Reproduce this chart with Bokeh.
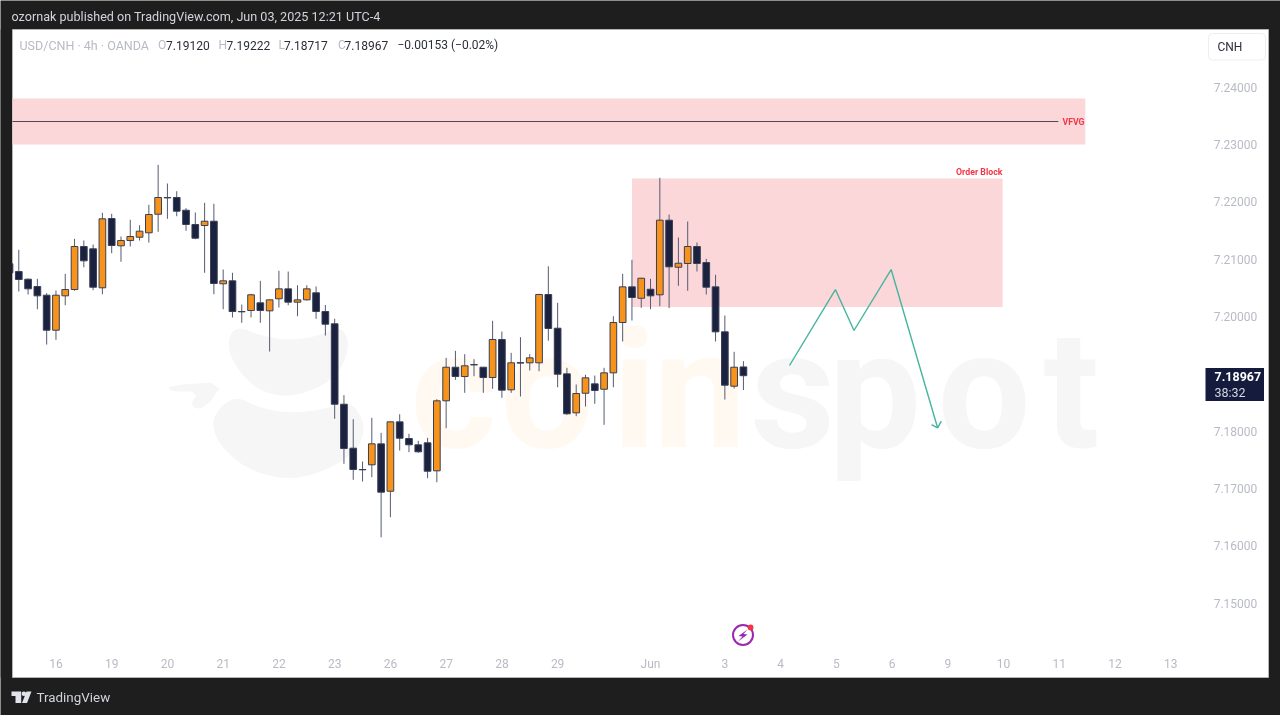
from bokeh.plotting import figure
from bokeh.embed import file_html
from bokeh.resources import INLINE
from bokeh.models import (Range1d, FixedTicker, Label, BoxAnnotation, PolyAnnotation)

# ---------------- data ----------------
opens = [7.20920,7.20785,7.20651,7.20524,7.20372,7.19761,7.20361,7.20471,7.21222,7.21181,
         7.20501,7.21710,7.21234,7.21326,7.21384,7.21461,7.21785,7.22077,7.22077,7.21855,
         7.21606,7.21588,7.21663,7.20571,7.20623,7.20087,7.20105,7.20239,7.20099,7.20309,
         7.20483,7.20250,7.20291,7.20414,7.20087,7.19873,7.18469,7.17702,7.17330,7.17412,
         7.17778,7.16951,7.18162,7.17871,7.17761,7.17796,7.17307,7.18529,7.19115,7.18953,
         7.19162,7.19115,7.18935,7.19599,7.18721,7.19195,7.19192,7.19192,7.20384,7.19796,
         7.19000,7.18319,7.18661,7.18825,7.18731,7.19017,7.19895,7.20518,7.20319,7.20476,
         7.20379,7.21681,7.20860,7.20925,7.21222,7.20942,7.20518,7.19733,7.18784,7.19120]
highs = [7.20942,7.21164,7.20663,7.20658,7.20407,7.20454,7.20745,7.21356,7.21326,7.21257,
         7.21810,7.21792,7.21396,7.21688,7.21593,7.21949,7.22647,7.22321,7.22187,7.21890,
         7.21815,7.21984,7.21967,7.20820,7.20763,7.20209,7.20396,7.20623,7.20297,7.20798,
         7.20785,7.20546,7.20546,7.20524,7.20201,7.19960,7.18627,7.18208,7.17469,7.18232,
         7.17970,7.18168,7.18295,7.17953,7.17831,7.17883,7.18557,7.19279,7.19401,7.19342,
         7.19255,7.19120,7.19925,7.19738,7.19366,7.19639,7.19342,7.20396,7.20876,7.20239,
         7.19105,7.18813,7.18983,7.18970,7.19105,7.20005,7.20745,7.20990,7.20675,7.20658,
         7.22421,7.21780,7.21379,7.21658,7.21291,7.21007,7.20728,7.20017,7.19384,7.19222]
lows = [7.20733,7.20436,7.20384,7.20127,7.19511,7.19593,7.20197,7.20450,7.20860,7.20459,
        7.20389,7.21105,7.20955,7.21222,7.21326,7.21291,7.21478,7.21705,7.21750,7.21496,
        7.21350,7.20763,7.20389,7.20127,7.19983,7.19890,7.19983,7.19890,7.19389,7.20157,
        7.20197,7.20005,7.20280,7.19960,7.19668,7.18215,7.17429,7.17150,7.17120,7.17195,
        7.16148,7.16497,7.17661,7.17632,7.17621,7.17178,7.17108,7.18051,7.18895,7.18668,
        7.18958,7.18668,7.18738,7.18581,7.18668,7.18604,7.19058,7.19045,7.19578,7.18766,
        7.18284,7.18260,7.18429,7.18476,7.18110,7.18766,7.19564,7.19930,7.20152,7.20127,
        7.20180,7.20145,7.20536,7.20449,7.20785,7.20384,7.19564,7.18551,7.18743,7.18717]
closes = [7.20763,7.20646,7.20483,7.20361,7.19761,7.20372,7.20471,7.21222,7.20972,7.20511,
          7.21705,7.21239,7.21326,7.21396,7.21489,7.21780,7.22077,7.22070,7.21838,7.21606,
          7.21367,7.21663,7.20576,7.20623,7.20087,7.20082,7.20379,7.20105,7.20291,7.20483,
          7.20250,7.20291,7.20483,7.20087,7.19866,7.18469,7.17696,7.17330,7.17325,7.17778,
          7.16934,7.18162,7.17876,7.17761,7.17639,7.17300,7.18529,7.19115,7.18953,7.19140,
          7.19155,7.18935,7.19599,7.18714,7.19192,7.19187,7.19279,7.20384,7.19791,7.18993,
          7.18302,7.18656,7.18930,7.18709,7.19017,7.19895,7.20518,7.20332,7.20668,7.20361,
          7.21681,7.20867,7.20930,7.21222,7.20925,7.20511,7.19733,7.18801,7.19115,7.18967]
bar_index = list(range(len(opens)))

day_ticks = [5,11,17,23,29,35,41,47,53,59,69,77,83,89,95,101,107,113,119,125]
day_labels = ["16","19","20","21","22","23","26","27","28","29","Jun","3","4","5","6","9","10","11","12","13"]
price_ticks = [7.24,7.23,7.22,7.21,7.20,7.18,7.17,7.16,7.15]

zone_left = [0.323, 67.0]
zone_right = [115.8, 106.9]
zone_bottom = [7.23002, 7.20166]
zone_top = [7.23804, 7.22408]
vfvg_x = [0.323, 112.9]
vfvg_y = [7.23403, 7.23403]
path_x = [83.96, 88.9, 90.9, 94.9, 99.9]
path_y = [7.19145, 7.20471, 7.19756, 7.2082, 7.18058]
head_x = [99.25, 99.9, 100.3]
head_y = [7.18115, 7.18058, 7.18173]
last_line_x = [0.323, 129.0]
last_line_y = [7.18956, 7.18956]

UP = "#f7931a"; DOWN = "#1a2240"; WICK = "#555b72"; EDGE = "#3a3f55"
PINK = "#fbd7da"; TEAL = "#45b5a0"; DARK = "#1e1e1e"; RED = "#f23645"
MUTED = "#b8bbc4"; INK = "#2a2e39"; FONT = "Roboto"

p = figure(width=1280, height=715, output_backend="svg", toolbar_location=None,
           x_range=Range1d(-0.969, 136.81), y_range=Range1d(7.13037, 7.25515),
           min_border=0, background_fill_color=DARK, border_fill_color=DARK,
           outline_line_color=None, x_axis_location="below", y_axis_location="right")
p.styles = {"position": "fixed", "left": "0", "top": "0"}
p.grid.visible = False

for ax, loc in ((p.xaxis[0], 7.14155), (p.yaxis[0], 128.11)):
    ax.fixed_location = loc
    ax.axis_line_color = None
    ax.major_tick_line_color = None
    ax.minor_tick_line_color = None
    ax.major_label_text_color = MUTED
    ax.major_label_text_font = FONT
    ax.major_label_text_font_size = "12px"
p.xaxis[0].ticker = FixedTicker(ticks=day_ticks)
p.xaxis[0].major_label_overrides = dict(zip(day_ticks, day_labels))
p.xaxis[0].major_label_standoff = 0
p.yaxis[0].ticker = FixedTicker(ticks=price_ticks)
p.yaxis[0].major_label_overrides = {t: f"{t:.5f}" for t in price_ticks}
p.yaxis[0].major_label_standoff = 8


def box(left, right, top, bottom, fill, line=None, level="annotation", radius=0, lw=1):
    p.add_layout(BoxAnnotation(left=left, right=right, top=top, bottom=bottom, left_units="canvas",
                               right_units="canvas", top_units="canvas", bottom_units="canvas",
                               fill_color=fill, fill_alpha=1 if fill else 0, line_color=line, line_alpha=1,
                               line_width=lw, border_radius=radius, level=level))


def lab(text, x, y, color, size, style="normal", align="left", base="middle", level="annotation", font=FONT):
    p.add_layout(Label(x=x, y=y, x_units="canvas", y_units="canvas", text=text, text_color=color,
                       text_font=font, text_font_size=f"{size}px", text_font_style=style,
                       text_align=align, text_baseline=base, level=level))


def smooth(pts, n=3):
    for _ in range(n):
        out = []
        for k in range(len(pts)):
            a, b = pts[k], pts[(k + 1) % len(pts)]
            out.append((0.75 * a[0] + 0.25 * b[0], 0.75 * a[1] + 0.25 * b[1]))
            out.append((0.25 * a[0] + 0.75 * b[0], 0.25 * a[1] + 0.75 * b[1]))
        pts = out
    return pts


def poly(pts, color, level="underlay"):
    p.add_layout(PolyAnnotation(xs=[a for a, _ in pts], ys=[b for _, b in pts], xs_units="canvas",
                                ys_units="canvas", fill_color=color, fill_alpha=1, line_color=None,
                                level=level))


# white chart pane on the dark page
box(12, 1268, 29, 677, "white", "#b4b4b4", "underlay")

# watermark
GREY = "#f6f6f7"; CREAM = "#fff9f1"
poly(smooth([(235,325),(260,335),(287,340),(317,336),(340,325),(350,343),(339,373),(317,388),(287,397),
             (257,390),(235,367),(226,343)]), GREY)
poly(smooth([(235,395),(260,408),(293,413),(327,408),(350,400),(365,423),(359,447),(333,467),(293,480),
             (253,472),(223,450),(211,427),(216,410)]), GREY)
poly(smooth([(168,385),(224,381),(204,409),(189,406),(198,391),(170,391)], 1), GREY)
for letter, lx, col in (("c", 410, CREAM), ("o", 500, CREAM), ("i", 612, CREAM), ("n", 653, CREAM),
                        ("s", 750, GREY), ("p", 828, GREY), ("o", 937, GREY), ("t", 1043, GREY)):
    lab(letter, lx, 390, col, 165, "bold", base="alphabetic", level="underlay")

# last price line
p.line(last_line_x, last_line_y, line_color="#6f7280", line_width=1, line_dash="1 2", level="underlay")

# zones
p.quad(left=zone_left, right=zone_right, bottom=zone_bottom, top=zone_top,
       fill_color=PINK, line_color=None)
p.line(vfvg_x, vfvg_y, line_color="#4a4a50", line_width=1)

# candles
colors = [UP if c > o else DOWN for o, c in zip(opens, closes)]
p.segment(bar_index, lows, bar_index, highs, line_color=WICK, line_width=1)
p.vbar(x=bar_index, width=0.72, bottom=[min(a, b) for a, b in zip(opens, closes)],
       top=[max(a, b) for a, b in zip(opens, closes)], fill_color=colors, line_color=EDGE, line_width=1)

# the dark page edge hides the part of the first candle that leaves the pane
box(0, 11.5, 29, 677, DARK)

# forecast path
p.line(path_x, path_y, line_color=TEAL, line_width=1.4)
p.line(head_x, head_y, line_color=TEAL, line_width=1.4)

# chart labels
lab("VFVG", 1062, 121, RED, 8.7, "bold")
lab("Order Block", 1002, 171, RED, 8.8, "bold", align="right")

# event icon
box(732.5, 752.5, 624.5, 644.5, None, "#9c27b0", radius=10, lw=2)
poly([(747,629),(738,635.5),(742,636),(737.5,641),(747,634),(743,633.5)], "#9c27b0", "annotation")
box(747.2, 753, 624, 629.8, RED, radius=3)

# header, legend
lab("ozornak published on TradingView.com, Jun 03, 2025 12:21 UTC-4", 11, 16, "#d1d4dc", 12.6)
lab("USD/CNH · 4h · OANDA", 19, 44.8, MUTED, 12.5)
for letter, lx, val, vx in (("O", 157.5, "7.19120", 165.5), ("H", 218, "7.19222", 226),
                            ("L", 278, "7.18717", 283.5), ("C", 337.5, "7.18967", 344)):
    lab(letter, lx, 44.8, MUTED, 12)
    lab(val, vx, 44.8, INK, 12)
lab("−0.00153 (−0.02%)", 397, 44.8, INK, 12)

# currency box
box(1208, 1265, 33, 59.5, "white", "#eeeef0", radius=4)
lab("CNH", 1217, 46, INK, 12)

# last-price tag
box(1205, 1263.5, 367.5, 400.5, "#141b3c")
lab("7.18967", 1214, 376, "white", 12.5, "bold")
lab("38:32", 1214, 392, "#d5d7e0", 12.5)

# footer
poly([(11,691),(20.7,691),(20.7,702.5),(15,702.5),(15,695.5),(11,695.5)], "#e0e3eb", "annotation")
poly([(26,691),(31,691),(26.5,702.5),(21.5,702.5)], "#e0e3eb", "annotation")
box(21.2, 25.6, 691, 695.4, "#e0e3eb", radius=2)
lab("TradingView", 36, 697, "#d1d4dc", 13.4)

open("out.html", "w").write(file_html(p, INLINE))
